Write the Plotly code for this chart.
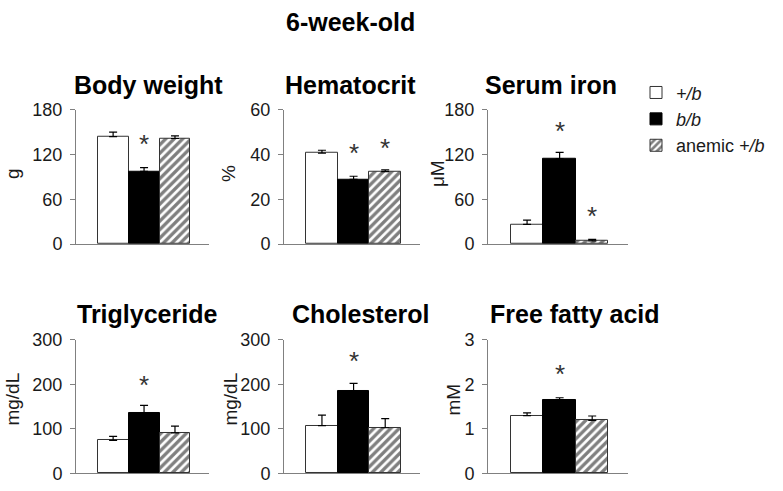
import plotly.graph_objects as go

W, H = 783, 491

GROUPS = ["+/b", "b/b", "anemic +/b"]
GROUP_LABELS = ["<i>+/b</i>", "<i>b/b</i>", "anemic <i>+/b</i>"]

PANEL_TITLES = ["Body weight", "Hematocrit", "Serum iron",
                "Triglyceride", "Cholesterol", "Free fatty acid"]
UNITS = ["g", "%", "μM", "mg/dL", "mg/dL", "mM"]
YMAX = [180, 60, 180, 300, 300, 3]
YTICKS = [[0, 60, 120, 180], [0, 20, 40, 60], [0, 60, 120, 180],
          [0, 100, 200, 300], [0, 100, 200, 300], [0, 1, 2, 3]]

body_weight = [144, 97.5, 141.5]
body_weight_err = [6, 5, 3.5]
hematocrit = [40.6, 28.9, 32.4]
hematocrit_err = [1.3, 1.4, 0.7]
serum_iron = [26.5, 114.5, 4.3]
serum_iron_err = [5.5, 8.5, 2.0]
triglyceride = [74, 135, 91]
triglyceride_err = [9, 18, 15]
cholesterol = [107.5, 186, 102.5]
cholesterol_err = [23.5, 16.5, 20.5]
free_fatty_acid = [1.30, 1.65, 1.19]
free_fatty_acid_err = [0.06, 0.05, 0.10]

VALUES = [body_weight, hematocrit, serum_iron, triglyceride, cholesterol, free_fatty_acid]
ERRORS = [body_weight_err, hematocrit_err, serum_iron_err, triglyceride_err,
          cholesterol_err, free_fatty_acid_err]

# significance markers: (panel index, group index, y position in data units)
SIGNIF = [(0, 1, 136), (1, 1, 41), (1, 2, 43.3), (2, 1, 153), (2, 2, 38.6),
          (3, 1, 201), (4, 1, 255), (5, 1, 2.25)]

# ---- layout geometry (pixels) ----
X_DOM_PX = [(76, 209), (284, 420), (488, 628)]
Y_DOM_PX = [(104, 244), (344, 483)]
TITLE_X_PX = [148, 350, 551, 147, 361, 575]
TITLE_Y_PX = [78, 78, 78, 317, 317, 317]
UNIT_X_PX = [12, 228, 437, 13, 231, 454]


def px_x(p):
    return p / W


def px_y(p):
    return 1 - p / H


FONT = "Arial, 'Liberation Sans', Helvetica, sans-serif"
AXCOL = "#808080"
TXT = "#1a1a1a"

fig = go.Figure()

styles = [
    dict(color="white", line=dict(color="#333333", width=1)),
    dict(color="black", line=dict(color="black", width=1)),
    dict(color="white", line=dict(color="#333333", width=1),
         pattern=dict(shape="/", fgcolor="black", bgcolor="white", size=6, solidity=0.55)),
]

for p in range(6):
    ax = "" if p == 0 else str(p + 1)
    for g in range(3):
        fig.add_trace(go.Bar(
            x=[GROUPS[g]], y=[VALUES[p][g]], width=1,
            name=GROUP_LABELS[g], legendgroup=GROUPS[g], showlegend=(p == 0),
            marker=styles[g],
            error_y=dict(type="data", symmetric=False, array=[ERRORS[p][g]],
                         arrayminus=[0], color="black", thickness=1.2, width=4),
            xaxis="x" + ax, yaxis="y" + ax,
        ))

layout = dict(
    width=W, height=H, margin=dict(l=0, r=0, t=0, b=0),
    paper_bgcolor="white", plot_bgcolor="white",
    barmode="overlay", bargap=0,
    font=dict(family=FONT, size=18, color=TXT),
    legend=dict(x=px_x(636), y=px_y(67), xanchor="left", yanchor="top",
                font=dict(size=18, color=TXT), tracegroupgap=0,
                bgcolor="rgba(0,0,0,0)", itemwidth=30),
    showlegend=True,
)

annotations = []
for p in range(6):
    r, c = divmod(p, 3)
    ax = "" if p == 0 else str(p + 1)
    xd = [px_x(X_DOM_PX[c][0]), px_x(X_DOM_PX[c][1])]
    yd = [px_y(Y_DOM_PX[r][1]), px_y(Y_DOM_PX[r][0])]
    layout["xaxis" + ax] = dict(
        domain=xd, anchor="y" + ax, type="category",
        categoryorder="array", categoryarray=GROUPS,
        range=[-1.2, 3.1], showticklabels=False, ticks="",
        showline=True, linecolor=AXCOL, linewidth=1, showgrid=False,
        zeroline=False, fixedrange=True,
    )
    layout["yaxis" + ax] = dict(
        domain=yd, anchor="x" + ax, range=[0, YMAX[p]],
        tickvals=YTICKS[p], ticktext=[str(t) for t in YTICKS[p]],
        ticks="outside", ticklen=5, tickcolor=AXCOL, tickwidth=1,
        ticklabelstandoff=4,
        showline=True, linecolor=AXCOL, linewidth=1, showgrid=False,
        zeroline=False, tickfont=dict(size=18, color=TXT), fixedrange=True,
    )
    annotations.append(dict(
        text="<b>%s</b>" % PANEL_TITLES[p], xref="paper", yref="paper",
        x=px_x(TITLE_X_PX[p]), y=px_y(TITLE_Y_PX[p]), xanchor="center",
        yanchor="middle", showarrow=False, font=dict(size=25, color="black"),
    ))
    annotations.append(dict(
        text=UNITS[p], xref="paper", yref="paper", textangle=-90,
        x=px_x(UNIT_X_PX[p]), y=(yd[0] + yd[1]) / 2 + (0.015 if r == 1 else 0.006),
        xanchor="center", yanchor="middle", showarrow=False,
        font=dict(size=19, color=TXT),
    ))

for (p, g, yv) in SIGNIF:
    ax = "" if p == 0 else str(p + 1)
    annotations.append(dict(
        text="*", xref="x" + ax, yref="y" + ax, x=GROUPS[g], y=yv,
        xanchor="center", yanchor="middle", yshift=-1, showarrow=False,
        font=dict(size=26, color="#333333"),
    ))

annotations.append(dict(
    text="<b>6-week-old</b>", xref="paper", yref="paper",
    x=px_x(350), y=px_y(13), xanchor="center", yanchor="middle",
    showarrow=False, font=dict(size=25, color="black"),
))

layout["annotations"] = annotations
fig.update_layout(**layout)
fig.write_html("out.html", config={"displayModeBar": False},
               post_script="document.body.style.margin='0';document.body.style.overflow='hidden';")
